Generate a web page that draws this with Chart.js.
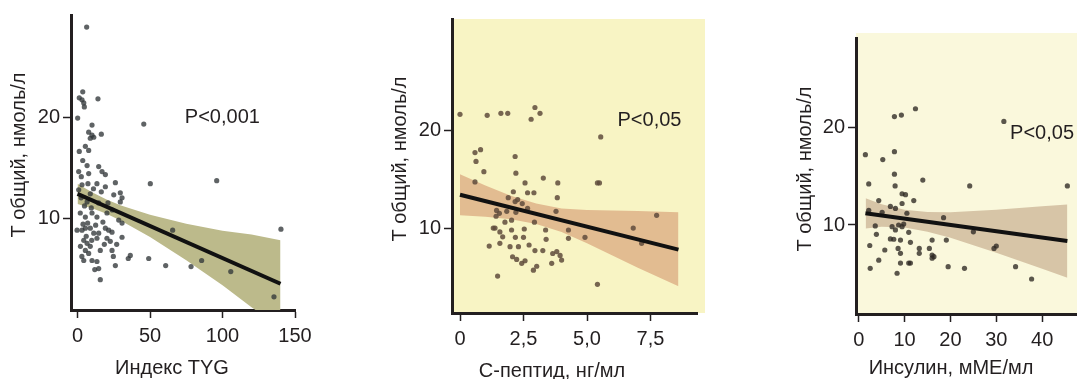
<!DOCTYPE html>
<html>
<head>
<meta charset="utf-8">
<script src="https://cdn.jsdelivr.net/npm/chart.js@4.4.1/dist/chart.umd.min.js"></script>
<style>
  html, body { margin: 0; padding: 0; background: #fff; }
  body { width: 1077px; height: 379px; position: relative; overflow: hidden; }
  .panel { position: absolute; top: 0; height: 379px; overflow: hidden; }
  canvas { display: block; }
</style>
</head>
<body>
<div class="panel" style="left:0;width:360px"><canvas id="tyg" width="360" height="379"></canvas></div>
<div class="panel" style="left:360px;width:357px"><canvas id="cpep" width="360" height="379"></canvas></div>
<div class="panel" style="left:717px;width:360px"><canvas id="ins" width="400" height="379"></canvas></div>
<script>
const yTitle = 'Т общий, нмоль/л';
const yTicks = [10, 20];

// panel 1: TYG index
const tygTicks = [0, 50, 100, 150];
const tygLabels = ['0', '50', '100', '150'];
const tygPoints = [
  [6.3, 28.9], [3.6, 22.5], [1.2, 21.9], [3.1, 21.7], [4.3, 21.4], [4.7, 21.0], [14.1, 21.8], [0.1, 19.9], [45.7, 19.3],
  [10.0, 19.2], [7.7, 18.5], [10.0, 18.2], [8.8, 17.9], [11.2, 18.0], [16.4, 18.3], [5.4, 17.1], [1.2, 16.6], [7.7, 16.7],
  [3.6, 15.7], [6.6, 15.2], [14.6, 15.1], [16.9, 14.6], [19.2, 14.3], [0.8, 14.6], [2.6, 14.1], [7.7, 14.4],
  [3.1, 13.3], [7.2, 13.4], [13.4, 13.4], [19.2, 13.1], [26.1, 13.5], [50.2, 13.4], [96.0, 13.7],
  [0.8, 12.8], [8.8, 12.4], [16.4, 12.6], [25.0, 12.3], [29.5, 12.5], [30.7, 12.0], [11.0, 12.9], [2.5, 12.0],
  [6.6, 11.6], [14.6, 11.5], [21.0, 11.5], [29.5, 11.6], [4.8, 11.2], [9.5, 11.0], [24.0, 10.8],
  [1.9, 10.5], [5.4, 10.1], [10.0, 10.5], [13.4, 10.1], [20.3, 10.5], [28.4, 9.8], [30.7, 9.5], [7.0, 9.5], [3.8, 9.4], [12.5, 9.3], [17.5, 9.6],
  [-0.3, 8.8], [3.1, 8.8], [5.4, 9.0], [8.8, 9.0], [11.2, 8.5], [14.6, 8.5], [19.2, 9.0], [21.5, 8.8], [23.8, 8.6], [65.6, 8.8], [140.3, 8.9],
  [4.3, 7.8], [6.6, 7.5], [13.4, 8.0], [20.3, 8.0], [22.6, 7.7], [30.7, 8.1], [9.8, 7.8], [6.0, 8.2], [18.5, 7.4], [27.0, 7.4], [2.0, 7.2],
  [5.4, 6.8], [7.7, 6.5], [8.8, 7.2], [15.7, 6.8], [23.8, 6.8], [36.4, 6.3], [35.0, 6.0], [49.1, 6.0], [24.7, 6.2], [3.0, 6.2],
  [4.3, 5.8], [10.0, 5.8], [13.4, 5.7], [26.1, 5.3], [60.8, 5.3], [85.6, 5.8], [78.3, 5.2],
  [11.9, 4.9], [14.6, 5.0], [105.7, 4.7], [15.7, 3.9], [135.5, 2.2]
];
const tygFit = [[0, 12.4], [140, 3.5]];
const tygBandX = [0, 10, 20, 30, 50, 75, 100, 120, 140];
const tygBandHi = [13.4, 12.56, 11.83, 11.24, 10.32, 9.43, 8.74, 8.37, 7.8];
const tygBandLo = [11.4, 10.96, 10.43, 9.74, 8.12, 5.83, 3.34, 1.17, -0.8];

// panel 2: C-peptide
const cpepTicks = [0, 2.5, 5, 7.5];
const cpepLabels = ['0', '2,5', '5,0', '7,5'];
const cpepPoints = [
  [0.0, 21.6], [1.07, 21.5], [1.61, 21.7], [1.88, 21.7], [2.95, 22.3], [2.8, 21.1], [3.15, 21.7], [5.54, 19.3],
  [0.59, 17.7], [0.81, 18.0], [0.63, 16.8], [0.94, 15.75], [0.59, 14.7], [2.17, 17.3], [2.2, 15.6], [3.28, 15.1],
  [2.56, 14.6], [3.85, 14.6], [5.41, 14.6], [5.49, 14.6], [2.1, 13.7], [2.66, 13.6], [2.91, 13.6],
  [1.9, 13.1], [2.17, 12.7], [2.27, 12.9], [2.45, 12.5], [3.83, 13.1], [2.66, 12.0], [1.84, 11.7], [2.2, 11.6],
  [1.44, 11.8], [1.55, 11.5], [1.42, 11.2], [3.78, 11.7], [7.74, 11.3], [1.77, 10.6], [2.03, 10.8], [2.93, 10.6],
  [1.31, 10.0], [1.38, 10.0], [1.57, 9.6], [2.03, 9.8], [2.53, 9.9], [3.37, 9.8], [4.27, 9.8], [6.82, 10.0],
  [1.68, 9.1], [2.18, 9.05], [2.5, 9.05], [3.39, 8.85], [4.27, 8.95], [4.92, 9.05], [1.15, 8.16], [1.57, 8.44],
  [1.97, 8.1], [2.3, 8.1], [2.72, 8.27], [2.95, 7.7], [3.26, 7.7], [3.81, 7.6], [3.65, 7.4], [3.94, 7.2],
  [2.07, 7.07], [2.23, 6.8], [2.43, 6.4], [2.56, 6.66], [4.0, 6.73], [3.61, 6.4], [3.02, 6.1], [2.89, 5.7],
  [7.15, 8.44], [1.48, 5.1], [5.41, 4.26]
];
const cpepFit = [[0, 13.4], [8.6, 7.8]];
const cpepBandX = [0, 1, 2, 3, 4, 5, 6, 7, 8.6];
const cpepBandHi = [15.5, 14.35, 13.3, 12.5, 12.0, 11.85, 11.8, 11.74, 11.6];
const cpepBandLo = [11.3, 11.15, 10.9, 10.4, 9.6, 8.45, 7.2, 5.94, 4.05];

// panel 3: insulin
const insTicks = [0, 10, 20, 30, 40];
const insLabels = ['0', '10', '20', '30', '40'];
const insPoints = [
  [12.37, 21.9], [7.78, 21.1], [9.3, 21.25], [31.65, 20.6], [1.45, 17.2], [5.24, 16.7], [7.78, 17.5], [7.78, 15.2],
  [13.97, 14.6], [2.18, 14.2], [7.93, 14.0], [24.2, 14.0], [45.5, 14.0], [9.45, 13.2], [10.2, 13.1], [4.36, 12.5],
  [12.0, 12.5], [9.45, 12.2], [6.9, 11.9], [8.0, 11.7], [5.1, 11.3], [2.18, 11.5], [10.5, 11.2], [18.5, 10.75],
  [3.6, 9.9], [7.27, 9.83], [8.0, 9.5], [8.7, 10.0], [9.45, 9.83], [9.8, 10.1], [10.9, 9.25], [3.85, 9.05],
  [6.9, 8.57], [7.64, 8.54], [9.1, 8.46], [11.27, 8.23], [16.0, 8.46], [19.1, 8.46], [25.0, 9.3],
  [2.4, 7.9], [5.68, 7.44], [8.58, 7.6], [9.1, 7.1], [13.2, 7.6], [13.2, 7.1], [15.4, 7.6], [16.0, 6.93], [16.4, 6.76], [16.0, 6.6],
  [29.5, 7.6], [30.0, 7.85], [4.36, 6.4], [9.1, 6.1], [10.9, 6.1], [11.27, 6.1], [2.5, 5.57], [19.5, 5.73], [23.06, 5.57], [34.2, 5.73],
  [8.36, 5.06], [37.7, 4.47]
];
const insFit = [[1.45, 11.2], [45.5, 8.36]];
const insBandX = [1.5, 5, 10, 15, 20, 25, 30, 35, 40, 45.5];
const insBandHi = [12.74, 12.12, 11.55, 11.32, 11.3, 11.43, 11.56, 11.74, 11.91, 12.11];
const insBandLo = [9.64, 9.82, 9.75, 9.32, 8.7, 7.93, 7.16, 6.34, 5.51, 4.61];

const FONT = "'Liberation Sans', Arial, sans-serif";
const INK = '#231f20';

const toXY = pairs => pairs.map(([x, y]) => ({ x, y }));
const zip = (xs, ys) => xs.map((x, i) => ({ x, y: ys[i] }));

// coloured plot background
const panelBg = {
  id: 'panelBg',
  beforeDraw(chart, args, opts) {
    if (!opts.color) return;
    const a = chart.chartArea;
    const ctx = chart.ctx;
    const up = opts.extendTop || 0;
    ctx.save();
    ctx.fillStyle = opts.color;
    ctx.fillRect(a.left, a.top - up, a.right - a.left + (opts.extendRight || 0), a.bottom - a.top + up);
    ctx.restore();
  }
};

// "P<..." note, placed in data units
const pNote = {
  id: 'pNote',
  afterDatasetsDraw(chart, args, opts) {
    if (!opts.text) return;
    const ctx = chart.ctx;
    ctx.save();
    ctx.font = '20px ' + FONT;
    ctx.fillStyle = INK;
    ctx.textBaseline = 'middle';
    ctx.fillText(opts.text, chart.scales.x.getPixelForValue(opts.x), chart.scales.y.getPixelForValue(opts.y));
    ctx.restore();
  }
};

// axis captions: the originals sit a bit off the axis centres
const captions = {
  id: 'captions',
  afterDraw(chart, args, opts) {
    const ctx = chart.ctx;
    ctx.save();
    ctx.font = '20px ' + FONT;
    ctx.fillStyle = INK;
    ctx.textAlign = 'center';
    ctx.textBaseline = 'middle';
    ctx.fillText(opts.xText, opts.xAt[0], opts.xAt[1]);
    ctx.translate(opts.yAt[0], opts.yAt[1]);
    ctx.rotate(-Math.PI / 2);
    ctx.fillText(opts.yText, 0, 0);
    ctx.restore();
  }
};

function makePanel(id, p) {
  const canvas = document.getElementById(id);
  const W = canvas.width, H = canvas.height;
  const font = { family: FONT, size: 20 };
  return new Chart(canvas, {
    type: 'scatter',
    data: {
      datasets: [
        { type: 'line', data: toXY(p.fit), borderColor: '#111', borderWidth: 4, pointRadius: 0, order: 0 },
        { data: toXY(p.points), pointBackgroundColor: p.dot, pointBorderWidth: 0, pointRadius: 2.6, order: 1 },
        { type: 'line', data: zip(p.bandX, p.bandHi), borderColor: 'transparent', borderWidth: 0, pointRadius: 0,
          backgroundColor: p.band, fill: '+1', order: 2 },
        { type: 'line', data: zip(p.bandX, p.bandLo), borderColor: 'transparent', borderWidth: 0, pointRadius: 0,
          fill: false, order: 3 }
      ]
    },
    options: {
      responsive: false,
      animation: false,
      events: [],
      layout: { padding: { top: p.top, right: W - p.right, left: 0, bottom: 0 } },
      scales: {
        x: {
          type: 'linear', min: p.xMin, max: p.xMax,
          afterFit: s => { s.height = H - p.bottom; },
          afterBuildTicks: s => { s.ticks = p.xTicks.map(v => ({ value: v })); },
          ticks: { callback: (v, i) => p.xLabels[i], font, color: INK, padding: 6, maxRotation: 0, autoSkip: false },
          grid: { drawOnChartArea: false, tickLength: 8, tickWidth: 1.5, tickColor: INK },
          border: { color: INK, width: 3 }
        },
        y: {
          type: 'linear', min: p.yMin, max: p.yMax,
          afterFit: s => { s.width = p.left; },
          afterBuildTicks: s => { s.ticks = yTicks.map(v => ({ value: v })); },
          ticks: { callback: v => String(v), font, color: INK, padding: 3, autoSkip: false },
          grid: { drawOnChartArea: false, tickLength: 8, tickWidth: 1.5, tickColor: INK },
          border: { color: INK, width: 3 }
        }
      },
      plugins: {
        legend: { display: false },
        tooltip: { enabled: false },
        panelBg: { color: p.bg, extendRight: p.bgRight, extendTop: p.bgTop },
        pNote: p.note,
        captions: { xText: p.xTitle, xAt: p.xTitleAt, yText: yTitle, yAt: p.yTitleAt }
      }
    },
    plugins: [panelBg, pNote, captions]
  });
}

makePanel('tyg', {
  points: tygPoints, fit: tygFit, bandX: tygBandX, bandHi: tygBandHi, bandLo: tygBandLo,
  xTicks: tygTicks, xLabels: tygLabels, xTitle: 'Индекс TYG',
  xMin: -4.5, xMax: 150, yMin: 0.9, yMax: 30.1,
  left: 71, right: 295, top: 15, bottom: 310,
  xTitleAt: [172, 368], yTitleAt: [19, 155],
  dot: 'rgba(50,55,58,0.78)', band: '#bcba8b', bg: null,
  note: { text: 'P<0,001', x: 74, y: 20 }
});

makePanel('cpep', {
  points: cpepPoints, fit: cpepFit, bandX: cpepBandX, bandHi: cpepBandHi, bandLo: cpepBandLo,
  xTicks: cpepTicks, xLabels: cpepLabels, xTitle: 'С-пептид, нг/мл',
  xMin: -0.315, xMax: 9.33, yMin: 1.33, yMax: 31.33,
  left: 92, right: 337, top: 19, bottom: 313,
  xTitleAt: [192, 371], yTitleAt: [40, 159],
  dot: 'rgba(95,75,60,0.85)', band: '#e2bc91', bg: '#f8f4c4', bgRight: 8, bgTop: 0,
  note: { text: 'P<0,05', x: 6.2, y: 21 }
});

makePanel('ins', {
  points: insPoints, fit: insFit, bandX: insBandX, bandHi: insBandHi, bandLo: insBandLo,
  xTicks: insTicks, xLabels: insLabels, xTitle: 'Инсулин, мМЕ/мл',
  xMin: -0.6, xMax: 50, yMin: 0.89, yMax: 29.14,
  left: 139, right: 371, top: 38, bottom: 314,
  xTitleAt: [234, 368], yTitleAt: [88, 169],
  dot: 'rgba(45,40,35,0.78)', band: '#d7c5a7', bg: '#faf8dc', bgRight: 40, bgTop: 5,
  note: { text: 'P<0,05', x: 33, y: 19.4 }
});
</script>
</body>
</html>
